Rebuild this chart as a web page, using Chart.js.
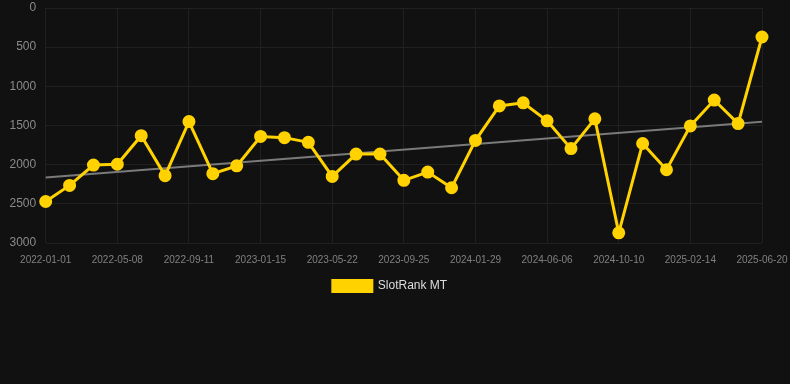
<!DOCTYPE html>
<html>
<head>
<meta charset="utf-8">
<script src="https://cdn.jsdelivr.net/npm/chart.js@4"></script>
<style>
html,body{margin:0;padding:0;background:#111111;}
#wrap{width:790px;height:302px;position:relative;}
</style>
</head>
<body>
<div id="wrap"><canvas id="c"></canvas></div>
<script>
const categories = ["2022-01-01","2022-02-12","2022-03-26","2022-05-08","2022-06-19","2022-07-31","2022-09-11","2022-10-23","2022-12-04","2023-01-15","2023-02-26","2023-04-09","2023-05-22","2023-07-03","2023-08-14","2023-09-25","2023-11-06","2023-12-18","2024-01-29","2024-03-11","2024-04-23","2024-06-06","2024-07-18","2024-08-29","2024-10-10","2024-11-21","2025-01-02","2025-02-14","2025-03-28","2025-05-09","2025-06-20"];
const rankValues = [2470,2265,2005,1995,1630,2140,1450,2115,2015,1640,1655,1715,2150,1865,1865,2200,2095,2295,1690,1250,1210,1440,1795,1415,2870,1730,2065,1505,1175,1475,370];
const trendValues = [2165,null,null,null,null,null,null,null,null,null,null,null,null,null,null,null,null,null,null,null,null,null,null,null,null,null,null,null,null,null,1452];
const yTicks = [0,500,1000,1500,2000,2500,3000];

new Chart(document.getElementById('c'), {
  type: 'line',
  data: {
    labels: categories,
    datasets: [
      {
        label: 'SlotRank MT',
        data: rankValues,
        borderColor: '#FFD200',
        backgroundColor: '#FFD200',
        borderWidth: 3,
        pointRadius: 5,
        pointHoverRadius: 5,
        pointBackgroundColor: '#FFD200',
        pointBorderColor: '#FFD200',
        tension: 0,
        order: 1
      },
      {
        label: 'trend',
        data: trendValues,
        borderColor: '#7a7a7a',
        borderWidth: 2,
        pointRadius: 0,
        spanGaps: true,
        fill: false,
        order: 2
      }
    ]
  },
  options: {
    responsive: true,
    maintainAspectRatio: false,
    animation: false,
    layout: { padding: { left: 0, right: 10, top: 0, bottom: 0 } },
    plugins: {
      legend: {
        position: 'bottom',
        labels: {
          color: '#dddddd',
          font: { family: 'Liberation Sans, Arial, sans-serif', size: 12 },
          boxWidth: 39,
          boxHeight: 11,
          padding: 3,
          filter: (item) => item.text !== 'trend'
        }
      },
      tooltip: { enabled: false }
    },
    scales: {
      x: {
        grid: { color: '#202020', drawTicks: false },
        border: { display: false },
        afterFit: (s) => { s.paddingRight = 28; s.paddingLeft = 0; },
        ticks: {
          color: '#808080',
          font: { family: 'Liberation Sans, Arial, sans-serif', size: 10 },
          maxRotation: 0,
          autoSkip: true,
          padding: 11
        }
      },
      y: {
        reverse: true,
        min: 0,
        max: 3000,
        afterBuildTicks: (axis) => { axis.ticks = yTicks.map(v => ({ value: v })); },
        afterFit: (s) => { s.paddingTop = 6; s.paddingBottom = 0; },
        grid: { color: '#202020', drawTicks: false },
        border: { display: false },
        ticks: {
          color: '#8a8a8a',
          font: { family: 'Liberation Sans, Arial, sans-serif', size: 12 },
          padding: 9.5,
          callback: (v) => String(v)
        }
      }
    }
  }
});
</script>
</body>
</html>
